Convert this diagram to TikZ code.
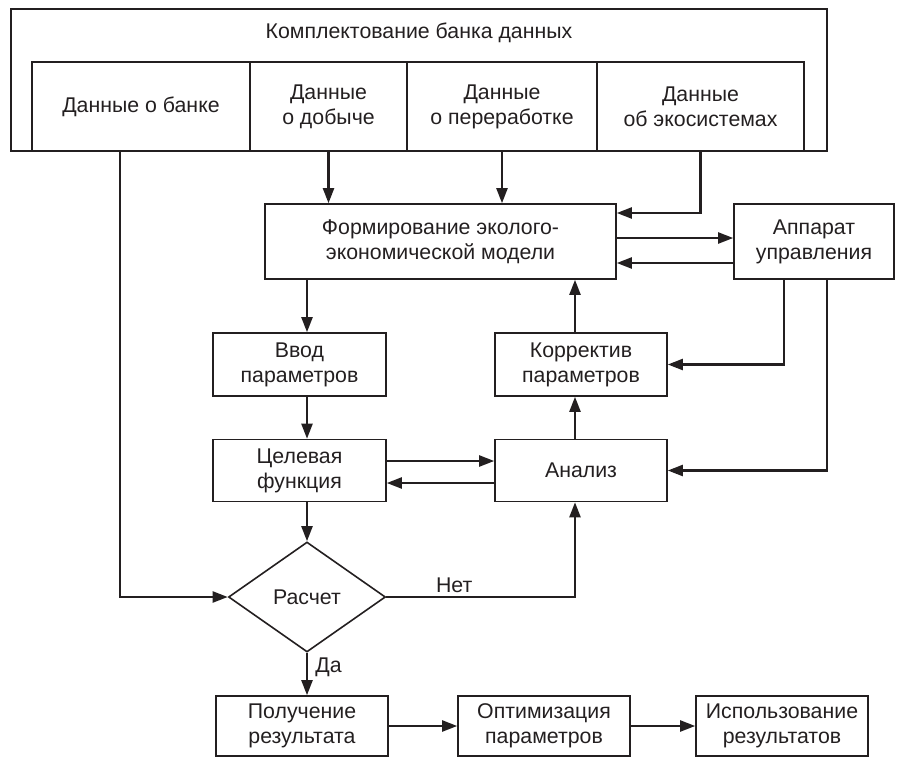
\documentclass[tikz,border=0pt]{standalone}
\usepackage{fontspec}
\setmainfont{Liberation Sans}
\usetikzlibrary{shapes.geometric, arrows.meta}
\definecolor{ink}{HTML}{231F20}
\tikzstyle{block} = [rectangle, draw=ink, line width=1.6pt, text centered, align=center, inner sep=0pt]
\tikzstyle{decision} = [diamond, draw=ink, line width=1.6pt, minimum width=157pt, minimum height=110pt, aspect=1.43, inner sep=0pt]
\tikzstyle{arrow} = [line width=2.2pt, draw=ink, -{Triangle[length=15pt,width=11pt]}]

\begin{document}
\begin{tikzpicture}[x=1pt,y=-1pt,font=\fontsize{21.3}{25}\selectfont,text=ink]
    \useasboundingbox (0,0) rectangle (898,758);

    % Nodes
    \node[block, minimum width=816pt, minimum height=142pt] (bank) at (419,80) {};
    \node (bankTitle) at (419,33) {Комплектование банка данных};
    \node[block, minimum width=218pt, minimum height=89pt] (dataBank) at (141,106.5) {Данные о банке};
    \node[block, minimum width=157pt, minimum height=89pt] (dataCatch) at (328.5,106.5) {Данные\\о добыче};
    \node[block, minimum width=190pt, minimum height=89pt] (dataProc) at (502,106.5) {Данные\\о переработке};
    \node[block, minimum width=207pt, minimum height=89pt] (dataEco) at (700.5,106.5) {Данные\\об экосистемах};

    \node[block, minimum width=351pt, minimum height=75pt] (model) at (440.5,241.5) {Формирование эколого-\\экономической модели};
    \node[block, minimum width=160pt, minimum height=75pt] (control) at (814,241.5) {Аппарат\\управления};

    \node[block, minimum width=173pt, minimum height=63pt] (input) at (299.5,364.5) {Ввод\\параметров};
    \node[block, minimum width=172pt, minimum height=63pt] (correct) at (581,364.5) {Корректив\\параметров};
    \node[block, minimum width=173pt, minimum height=62pt] (goal) at (299.5,470.5) {Целевая\\функция};
    \node[block, minimum width=172pt, minimum height=62pt] (analysis) at (581,470.5) {Анализ};

    \node[decision] (calc) at (307,597) {Расчет};

    \node[block, minimum width=172pt, minimum height=60pt] (result) at (302,726) {Получение\\результата};
    \node[block, minimum width=172pt, minimum height=60pt] (optim) at (544,726) {Оптимизация\\параметров};
    \node[block, minimum width=172pt, minimum height=60pt] (usage) at (782,726) {Использование\\результатов};

    % Arrows
    \draw[arrow] ([xshift=-21pt]dataBank.south) |- (calc.west);
    \draw[arrow] (dataCatch.south) -- (dataCatch.south |- model.north);
    \draw[arrow] (dataProc.south) -- (dataProc.south |- model.north);
    \draw[arrow] (dataEco.south) |- ([yshift=28.5pt]model.east);
    \draw[arrow] ([yshift=3.5pt]model.east) -- ([yshift=3.5pt]control.west);
    \draw[arrow] ([yshift=-21.5pt]control.west) -- ([yshift=-21.5pt]model.east);

    \draw[arrow] (model.south -| calc.north) -- (input.north -| calc.north);
    \draw[arrow] (input.south -| calc.north) -- (goal.north -| calc.north);
    \draw[arrow] (goal.south -| calc.north) -- (calc.north);

    \draw[arrow] ([xshift=-6pt]correct.north) -- ([xshift=-6pt]correct.north |- model.south);
    \draw[arrow] ([xshift=-6pt]analysis.north) -- ([xshift=-6pt]correct.south);
    \draw[arrow] ([xshift=-30pt]control.south) |- (correct.east);
    \draw[arrow] ([xshift=13pt]control.south) |- (analysis.east);

    \draw[arrow] ([yshift=9.5pt]goal.east) -- ([yshift=9.5pt]analysis.west);
    \draw[arrow] ([yshift=-12.5pt]analysis.west) -- ([yshift=-12.5pt]goal.east);

    \draw[arrow] (calc.east) -| node[above, pos=0.18] {Нет} ([xshift=-6pt]analysis.south);
    \draw[arrow] (calc.south) -- node[right, pos=0.35, xshift=4pt] {Да} (calc.south |- result.north);
    \draw[arrow] (result) -- (optim);
    \draw[arrow] (optim) -- (usage);

\end{tikzpicture}
\end{document}
